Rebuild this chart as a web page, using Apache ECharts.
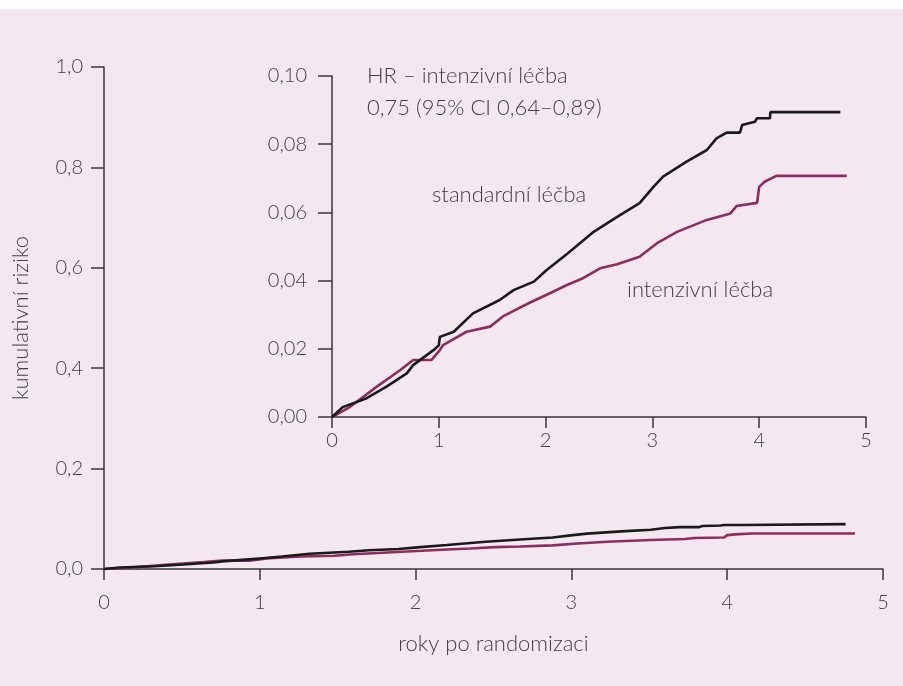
<!DOCTYPE html>
<html>
<head>
<meta charset="utf-8">
<script src="https://cdn.jsdelivr.net/npm/echarts@6/dist/echarts.min.js"></script>
<style>
html,body{margin:0;padding:0;background:#ffffff;}
#wrap{position:absolute;left:0;top:9px;width:903px;height:677px;background:#f3e8ef;}
#chart{width:903px;height:686px;position:absolute;left:0;top:0;}
</style>
</head>
<body>
<div id="wrap"></div>
<div id="chart"></div>
<script>
const xTicks = [0, 1, 2, 3, 4, 5];
const mainYTicks = [0, 0.2, 0.4, 0.6, 0.8, 1.0];
const insetYTicks = [0, 0.02, 0.04, 0.06, 0.08, 0.10];

const stdTime = [0, 0.10, 0.325, 0.51, 0.70, 0.76, 0.95, 1.0, 1.01, 1.14, 1.32, 1.57, 1.70, 1.89, 2.01, 2.20, 2.45, 2.67, 2.88, 3.01, 3.10, 3.32, 3.51, 3.60, 3.695, 3.82, 3.84, 3.96, 3.98, 4.10, 4.105, 4.76];
const stdRisk = [0, 0.0029, 0.0055, 0.0089, 0.0128, 0.0152, 0.0196, 0.021, 0.0235, 0.025, 0.0304, 0.0343, 0.0372, 0.0397, 0.0431, 0.0478, 0.0543, 0.0587, 0.0627, 0.0675, 0.0705, 0.0749, 0.0783, 0.0817, 0.0834, 0.0834, 0.0856, 0.0866, 0.0876, 0.0876, 0.0894, 0.0894];

const intTime = [0, 0.17, 0.42, 0.64, 0.76, 0.93, 1.01, 1.04, 1.26, 1.48, 1.60, 1.85, 2.04, 2.20, 2.35, 2.51, 2.67, 2.88, 3.04, 3.23, 3.51, 3.73, 3.79, 3.98, 4.00, 4.05, 4.16, 4.82];
const intRisk = [0, 0.003, 0.0089, 0.0138, 0.0167, 0.0167, 0.0196, 0.0211, 0.025, 0.0265, 0.0295, 0.0335, 0.0363, 0.0387, 0.0407, 0.0436, 0.0448, 0.047, 0.0509, 0.0543, 0.0578, 0.0597, 0.0619, 0.0628, 0.0675, 0.069, 0.0707, 0.0707];

const stdLabel = 'standardní léčba';
const intLabel = 'intenzivní léčba';
const hrLine1 = 'HR – intenzivní léčba';
const hrLine2 = '0,75 (95% CI 0,64–0,89)';

const pair = (t, v) => t.map((x, i) => [x, v[i]]);
const txt = '#433e40';
const axisCol = '#3a3638';
const font = 'Lato';
const fw = 300;
const fs = 20;
const fsBig = 22;
const fmt = d => v => v.toFixed(d).replace('.', ',');

function xAxis(gridIndex, margin, tickLen, name) {
  return {
    type: 'value', gridIndex, min: 0, max: 5, interval: 1,
    name: name || '', nameLocation: 'middle', nameGap: 64,
    nameTextStyle: {color: txt, fontSize: fsBig, fontFamily: font, fontWeight: fw},
    axisLine: {show: true, onZero: false, lineStyle: {color: axisCol, width: 1.5}},
    axisTick: {show: true, inside: false, length: tickLen, lineStyle: {color: axisCol, width: 1.5}},
    axisLabel: {color: txt, fontSize: fs, fontFamily: font, fontWeight: fw, margin: margin, formatter: v => String(v)},
    splitLine: {show: false}
  };
}
function yAxis(gridIndex, max, interval, margin, tickLen, dec, name) {
  return {
    type: 'value', gridIndex, min: 0, max, interval,
    name: name || '', nameLocation: 'middle', nameGap: 72, nameRotate: 90,
    nameTextStyle: {color: txt, fontSize: fsBig, fontFamily: font, fontWeight: fw},
    axisLine: {show: true, onZero: false, lineStyle: {color: axisCol, width: 1.5}},
    axisTick: {show: true, inside: false, length: tickLen, lineStyle: {color: axisCol, width: 1.5}},
    axisLabel: {color: txt, fontSize: fs, fontFamily: font, fontWeight: fw, margin: margin, formatter: fmt(dec)},
    splitLine: {show: false}
  };
}

const chart = echarts.init(document.getElementById('chart'), null, {renderer: 'canvas'});
const lineS = (name, data, color, xi, yi) => ({
  name, type: 'line', data, xAxisIndex: xi, yAxisIndex: yi,
  showSymbol: false, symbol: 'none', silent: true, animation: false,
  lineStyle: {color, width: 2.6}, z: color === '#1b1a1b' ? 3 : 2
});
const tStyle = s => ({text: s, fill: txt, fontSize: fsBig, fontFamily: font, fontWeight: fw, align: 'left', verticalAlign: 'middle'});

chart.setOption({
  backgroundColor: 'transparent',
  animation: false,
  grid: [
    {left: 104, top: 67, width: 779, height: 502, outerBoundsMode: 'none', containLabel: false},
    {left: 332, top: 76, width: 534, height: 341, outerBoundsMode: 'none', containLabel: false}
  ],
  xAxis: [xAxis(0, 24, 11, 'roky po randomizaci'), xAxis(1, 14, 11)],
  yAxis: [yAxis(0, 1.0, 0.2, 21, 13, 1, 'kumulativní riziko'), yAxis(1, 0.10, 0.02, 25, 14, 2)],
  series: [
    lineS('int-main', pair(intTime, intRisk), '#8e2c60', 0, 0),
    lineS('std-main', pair(stdTime, stdRisk), '#1b1a1b', 0, 0),
    lineS('int-inset', pair(intTime, intRisk), '#8e2c60', 1, 1),
    lineS('std-inset', pair(stdTime, stdRisk), '#1b1a1b', 1, 1)
  ],
  graphic: [
    {type: 'text', x: 367, y: 76, style: tStyle(hrLine1)},
    {type: 'text', x: 367, y: 108, style: tStyle(hrLine2)},
    {type: 'text', x: 432, y: 195, style: tStyle(stdLabel)},
    {type: 'text', x: 627, y: 290, style: tStyle(intLabel)}
  ]
});
</script>
</body>
</html>
